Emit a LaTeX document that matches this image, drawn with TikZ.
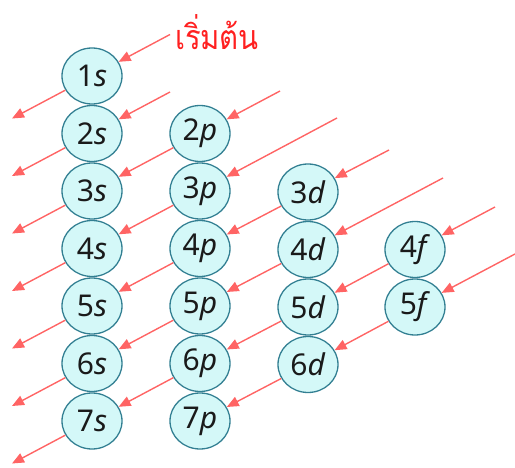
\documentclass[tikz,border=0pt]{standalone}
\usepackage{fontspec}
\setmainfont{Noto Sans}
\newfontfamily\thaifont[Script=Thai]{Loma}
\usetikzlibrary{arrows.meta,shapes.geometric}
\definecolor{orbfill}{HTML}{D4F8F8}
\definecolor{orbline}{HTML}{327F92}
\definecolor{arrred}{HTML}{FF6464}
\definecolor{startred}{HTML}{FF2020}
\definecolor{orbtext}{HTML}{1A1A1A}
\begin{document}
\begin{tikzpicture}[x=1pt,y=-1pt,
 orb/.style={ellipse, draw=orbline, fill=orbfill, line width=1.3pt, minimum width=60pt, minimum height=56pt, inner sep=0pt, font=\fontsize{30}{32}\selectfont, text=orbtext},
 arr/.style={draw=arrred, line width=1.4pt, -{Triangle[length=12pt,width=10pt]}}]
\useasboundingbox (0,0) rectangle (515,468);
% Start label
\node[text=startred, font=\thaifont\fontsize{34}{36}\selectfont, inner sep=0pt] (start) at (217,32) {\scalebox{0.86}[1]{เริ่มต้น}};
% orbitals
\node[orb] (s1) at (92,76) {1\textit{s}};
\node[orb] (s2) at (92,133.5) {2\textit{s}};
\node[orb] (s3) at (92,191) {3\textit{s}};
\node[orb] (s4) at (92,248.5) {4\textit{s}};
\node[orb] (s5) at (92,306) {5\textit{s}};
\node[orb] (s6) at (92,363.5) {6\textit{s}};
\node[orb] (s7) at (92,421) {7\textit{s}};
\node[orb] (p2) at (200,133.5) {2\textit{p}};
\node[orb] (p3) at (200,191) {3\textit{p}};
\node[orb] (p4) at (200,248.5) {4\textit{p}};
\node[orb] (p5) at (200,306) {5\textit{p}};
\node[orb] (p6) at (200,363.5) {6\textit{p}};
\node[orb] (p7) at (200,421) {7\textit{p}};
\node[orb] (d3) at (308,192) {3\textit{d}};
\node[orb] (d4) at (308,249.5) {4\textit{d}};
\node[orb] (d5) at (308,307) {5\textit{d}};
\node[orb] (d6) at (308,364.5) {6\textit{d}};
\node[orb] (f4) at (415,249.5) {4\textit{f}};
\node[orb] (f5) at (415,307) {5\textit{f}};
% free ends
\coordinate (c1) at (170,34.5);
\coordinate (c2) at (170,92);
\coordinate (c3) at (280,91);
\coordinate (c4) at (337,118);
\coordinate (c5) at (389,150);
\coordinate (c6) at (443,178);
\coordinate (c7) at (495,207);
\coordinate (c8) at (515,254);
\coordinate (e1) at (12,118.5);
\coordinate (e2) at (12,176);
\coordinate (e3) at (12,233.5);
\coordinate (e4) at (12,291);
\coordinate (e5) at (12,348.5);
\coordinate (e6) at (12,406);
\coordinate (e7) at (12,463.5);
% diagonals
\draw[arr] (c1) -- (s1); \draw[arr] (s1) -- (e1);
\draw[arr] (c2) -- (s2); \draw[arr] (s2) -- (e2);
\draw[arr] (c3) -- (p2); \draw[arr] (p2) -- (s3); \draw[arr] (s3) -- (e3);
\draw[arr] (c4) -- (p3); \draw[arr] (p3) -- (s4); \draw[arr] (s4) -- (e4);
\draw[arr] (c5) -- (d3); \draw[arr] (d3) -- (p4); \draw[arr] (p4) -- (s5); \draw[arr] (s5) -- (e5);
\draw[arr] (c6) -- (d4); \draw[arr] (d4) -- (p5); \draw[arr] (p5) -- (s6); \draw[arr] (s6) -- (e6);
\draw[arr] (c7) -- (f4); \draw[arr] (f4) -- (d5); \draw[arr] (d5) -- (p6); \draw[arr] (p6) -- (s7); \draw[arr] (s7) -- (e7);
\draw[arr] (c8) -- (f5); \draw[arr] (f5) -- (d6); \draw[arr] (d6) -- (p7);
\end{tikzpicture}
\end{document}
